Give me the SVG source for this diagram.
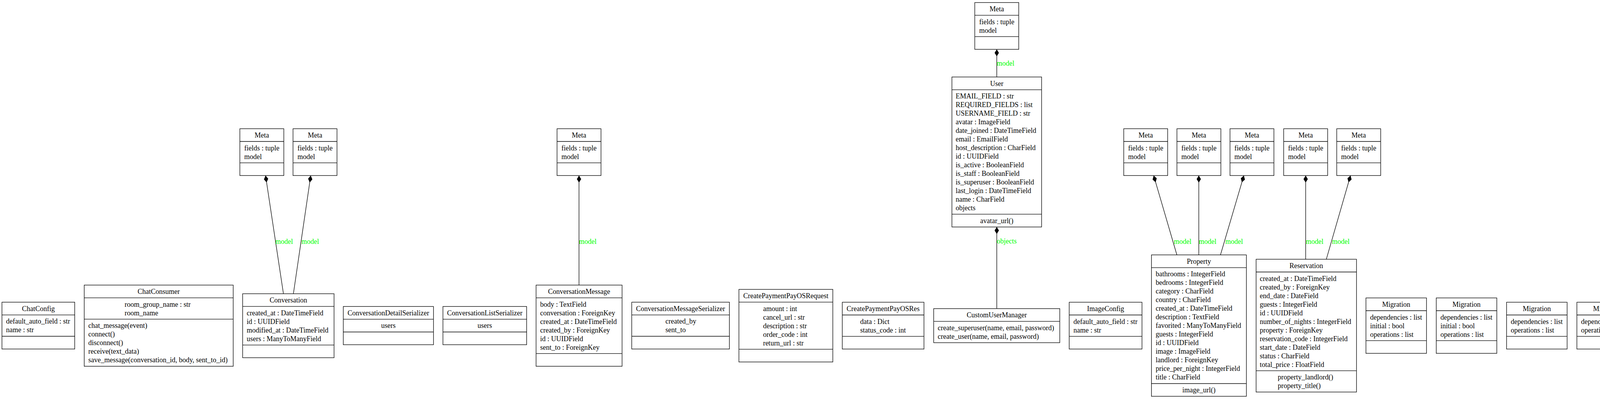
<svg xmlns="http://www.w3.org/2000/svg" width="7869" height="1021" viewBox="0 0 7869 1021">
<style>
.b{fill:#fff;stroke:#000;stroke-width:1.33}
.s{fill:none;stroke:#000;stroke-width:1.33}
text{font-family:"Liberation Serif","Times New Roman",serif;font-size:18px;fill:#000}
.c{text-anchor:middle}
.e{fill:none;stroke:#000;stroke-width:1.33}
text.l{fill:#00ff00}
</style>
<defs>
<marker id="dia" markerUnits="userSpaceOnUse" markerWidth="20" markerHeight="12" refX="0" refY="6" orient="auto" viewBox="0 0 20 12"><path d="M0,6 L9,0.5 L18,6 L9,11.5 Z" fill="#000"/></marker>
</defs>
<rect width="7869" height="1021" fill="#fff"/>
<g id="connectors">
<path class="e" marker-start="url(#dia)" d="M679.8,449.2 L725.6,751.6"/>
<text class="l" x="705" y="623.5">model</text>
<path class="e" marker-start="url(#dia)" d="M795.5,449.2 L751.1,751.6"/>
<text class="l" x="771.7" y="623.5">model</text>
<path class="e" marker-start="url(#dia)" d="M1482.3,449.2 L1482.3,729.5"/>
<text class="l" x="1482.3" y="623.5">model</text>
<path class="e" marker-start="url(#dia)" d="M2551.7,126.3 L2551.7,197"/>
<text class="l" x="2551.7" y="167.5">model</text>
<path class="e" marker-start="url(#dia)" d="M2551.7,580.8 L2551.7,789.7"/>
<text class="l" x="2551.7" y="622.5">objects</text>
<path class="e" marker-start="url(#dia)" d="M2953.4,449.2 L3012.8,652.3"/>
<text class="l" x="3005" y="623.5">model</text>
<path class="e" marker-start="url(#dia)" d="M3068.9,449.2 L3068.9,652.3"/>
<text class="l" x="3069" y="623.5">model</text>
<path class="e" marker-start="url(#dia)" d="M3184.3,449.2 L3124.4,652.3"/>
<text class="l" x="3137" y="623.5">model</text>
<path class="e" marker-start="url(#dia)" d="M3342.5,449.2 L3342.5,663.4"/>
<text class="l" x="3343" y="623.5">model</text>
<path class="e" marker-start="url(#dia)" d="M3457.3,449.2 L3395.4,663.4"/>
<text class="l" x="3410" y="623.5">model</text>
<path class="e" marker-start="url(#dia)" d="M5600.8,437.6 L5600.8,800.8"/>
<text class="l" x="5600.8" y="623">property</text>
</g>

<g id="ChatConfig">
<rect class="b" x="5" y="773.3" width="186.3" height="119.8"/>
<path class="s" d="M5,805.9H191.3M5,860.5H191.3"/>
<text class="c" x="98.15" y="795.8">ChatConfig</text>
<text x="15.5" y="828.4">default_auto_field : str</text>
<text x="15.5" y="850.4">name : str</text>
</g>

<g id="ChatConsumer">
<rect class="b" x="215.6" y="729.5" width="381.4" height="207.8"/>
<path class="s" d="M215.6,762.1H597M215.6,816.7H597"/>
<text class="c" x="406.3" y="752">ChatConsumer</text>
<text x="319" y="784.6">room_group_name : str</text>
<text x="319" y="806.6">room_name</text>
<text x="226" y="839.2">chat_message(event)</text>
<text x="226" y="861.2">connect()</text>
<text x="226" y="883.2">disconnect()</text>
<text x="226" y="905.2">receive(text_data)</text>
<text x="226" y="927.2">save_message(conversation_id, body, sent_to_id)</text>
</g>

<g id="Conversation">
<rect class="b" x="621.2" y="751.6" width="234" height="163.8"/>
<path class="s" d="M621.2,784.2H855.2M621.2,882.8H855.2"/>
<text class="c" x="738.2" y="774.1">Conversation</text>
<text x="631.4" y="806.7">created_at : DateTimeField</text>
<text x="631.4" y="828.7">id : UUIDField</text>
<text x="631.4" y="850.7">modified_at : DateTimeField</text>
<text x="631.4" y="872.7">users : ManyToManyField</text>
</g>

<g id="Meta_Conversation_1">
<rect class="b" x="614.05" y="329.4" width="112.5" height="119.8"/>
<path class="s" d="M614.05,362H726.55M614.05,416.6H726.55"/>
<text class="c" x="670.3" y="351.9">Meta</text>
<text x="625.3" y="384.5">fields : tuple</text>
<text x="625.3" y="406.5">model</text>
</g>

<g id="Meta_Conversation_2">
<rect class="b" x="750.15" y="329.4" width="112.5" height="119.8"/>
<path class="s" d="M750.15,362H862.65M750.15,416.6H862.65"/>
<text class="c" x="806.4" y="351.9">Meta</text>
<text x="761.4" y="384.5">fields : tuple</text>
<text x="761.4" y="406.5">model</text>
</g>

<g id="ConversationDetailSerializer">
<rect class="b" x="878.8" y="784.3" width="230.9" height="97.8"/>
<path class="s" d="M878.8,816.9H1109.7M878.8,849.5H1109.7"/>
<text class="c" x="994.25" y="806.8">ConversationDetailSerializer</text>
<text class="c" x="994.25" y="839.4">users</text>
</g>

<g id="ConversationListSerializer">
<rect class="b" x="1133.9" y="784.3" width="214.3" height="97.8"/>
<path class="s" d="M1133.9,816.9H1348.2M1133.9,849.5H1348.2"/>
<text class="c" x="1241.05" y="806.8">ConversationListSerializer</text>
<text class="c" x="1241.05" y="839.4">users</text>
</g>

<g id="ConversationMessage">
<rect class="b" x="1372.4" y="729.5" width="220.1" height="207.8"/>
<path class="s" d="M1372.4,762.1H1592.5M1372.4,904.7H1592.5"/>
<text class="c" x="1482.45" y="752">ConversationMessage</text>
<text x="1382.7" y="784.6">body : TextField</text>
<text x="1382.7" y="806.6">conversation : ForeignKey</text>
<text x="1382.7" y="828.6">created_at : DateTimeField</text>
<text x="1382.7" y="850.6">created_by : ForeignKey</text>
<text x="1382.7" y="872.6">id : UUIDField</text>
<text x="1382.7" y="894.6">sent_to : ForeignKey</text>
</g>

<g id="Meta_ConversationMessage">
<rect class="b" x="1426.05" y="329.4" width="112.5" height="119.8"/>
<path class="s" d="M1426.05,362H1538.55M1426.05,416.6H1538.55"/>
<text class="c" x="1482.3" y="351.9">Meta</text>
<text x="1437.3" y="384.5">fields : tuple</text>
<text x="1437.3" y="406.5">model</text>
</g>

<g id="ConversationMessageSerializer">
<rect class="b" x="1617.3" y="773.3" width="250" height="119.8"/>
<path class="s" d="M1617.3,805.9H1867.3M1617.3,860.5H1867.3"/>
<text class="c" x="1742.3" y="795.8">ConversationMessageSerializer</text>
<text x="1703.5" y="828.4">created_by</text>
<text x="1703.5" y="850.4">sent_to</text>
</g>

<g id="CreatePaymentPayOSRequest">
<rect class="b" x="1891.6" y="740.5" width="240.4" height="185.8"/>
<path class="s" d="M1891.6,773.1H2132M1891.6,893.7H2132"/>
<text class="c" x="2011.8" y="763">CreatePaymentPayOSRequest</text>
<text x="1953.4" y="795.6">amount : int</text>
<text x="1953.4" y="817.6">cancel_url : str</text>
<text x="1953.4" y="839.6">description : str</text>
<text x="1953.4" y="861.6">order_code : int</text>
<text x="1953.4" y="883.6">return_url : str</text>
</g>

<g id="CreatePaymentPayOSRes">
<rect class="b" x="2156.3" y="773.4" width="209.1" height="119.8"/>
<path class="s" d="M2156.3,806H2365.4M2156.3,860.6H2365.4"/>
<text class="c" x="2260.85" y="795.9">CreatePaymentPayOSRes</text>
<text x="2202" y="828.5">data : Dict</text>
<text x="2202" y="850.5">status_code : int</text>
</g>

<g id="CustomUserManager">
<rect class="b" x="2390.3" y="789.7" width="322.7" height="87.2"/>
<path class="s" d="M2390.3,822.3H2713"/>
<text class="c" x="2551.65" y="812.2">CustomUserManager</text>
<text x="2400.5" y="844.8">create_superuser(name, email, password)</text>
<text x="2400.5" y="866.8">create_user(name, email, password)</text>
</g>

<g id="User">
<rect class="b" x="2436.9" y="197" width="229.6" height="383.8"/>
<path class="s" d="M2436.9,229.6H2666.5M2436.9,548.2H2666.5"/>
<text class="c" x="2551.7" y="219.5">User</text>
<text x="2446.4" y="252.1">EMAIL_FIELD : str</text>
<text x="2446.4" y="274.1">REQUIRED_FIELDS : list</text>
<text x="2446.4" y="296.1">USERNAME_FIELD : str</text>
<text x="2446.4" y="318.1">avatar : ImageField</text>
<text x="2446.4" y="340.1">date_joined : DateTimeField</text>
<text x="2446.4" y="362.1">email : EmailField</text>
<text x="2446.4" y="384.1">host_description : CharField</text>
<text x="2446.4" y="406.1">id : UUIDField</text>
<text x="2446.4" y="428.1">is_active : BooleanField</text>
<text x="2446.4" y="450.1">is_staff : BooleanField</text>
<text x="2446.4" y="472.1">is_superuser : BooleanField</text>
<text x="2446.4" y="494.1">last_login : DateTimeField</text>
<text x="2446.4" y="516.1">name : CharField</text>
<text x="2446.4" y="538.1">objects</text>
<text class="c" x="2551.7" y="570.7">avatar_url()</text>
</g>

<g id="Meta_User">
<rect class="b" x="2495.45" y="6.5" width="112.5" height="119.8"/>
<path class="s" d="M2495.45,39.1H2607.95M2495.45,93.7H2607.95"/>
<text class="c" x="2551.7" y="29">Meta</text>
<text x="2506.7" y="61.6">fields : tuple</text>
<text x="2506.7" y="83.6">model</text>
</g>

<g id="ImageConfig">
<rect class="b" x="2737.2" y="773.4" width="186.3" height="119.8"/>
<path class="s" d="M2737.2,806H2923.5M2737.2,860.6H2923.5"/>
<text class="c" x="2830.35" y="795.9">ImageConfig</text>
<text x="2748" y="828.5">default_auto_field : str</text>
<text x="2748" y="850.5">name : str</text>
</g>

<g id="Meta_Property_1">
<rect class="b" x="2876.75" y="329.4" width="112.5" height="119.8"/>
<path class="s" d="M2876.75,362H2989.25M2876.75,416.6H2989.25"/>
<text class="c" x="2933" y="351.9">Meta</text>
<text x="2888" y="384.5">fields : tuple</text>
<text x="2888" y="406.5">model</text>
</g>

<g id="Meta_Property_2">
<rect class="b" x="3012.95" y="329.4" width="112.5" height="119.8"/>
<path class="s" d="M3012.95,362H3125.45M3012.95,416.6H3125.45"/>
<text class="c" x="3069.2" y="351.9">Meta</text>
<text x="3024.2" y="384.5">fields : tuple</text>
<text x="3024.2" y="406.5">model</text>
</g>

<g id="Meta_Property_3">
<rect class="b" x="3148.75" y="329.4" width="112.5" height="119.8"/>
<path class="s" d="M3148.75,362H3261.25M3148.75,416.6H3261.25"/>
<text class="c" x="3205" y="351.9">Meta</text>
<text x="3160" y="384.5">fields : tuple</text>
<text x="3160" y="406.5">model</text>
</g>

<g id="Meta_Reservation_1">
<rect class="b" x="3286.25" y="329.4" width="112.5" height="119.8"/>
<path class="s" d="M3286.25,362H3398.75M3286.25,416.6H3398.75"/>
<text class="c" x="3342.5" y="351.9">Meta</text>
<text x="3297.5" y="384.5">fields : tuple</text>
<text x="3297.5" y="406.5">model</text>
</g>

<g id="Meta_Reservation_2">
<rect class="b" x="3422.05" y="329.4" width="112.5" height="119.8"/>
<path class="s" d="M3422.05,362H3534.55M3422.05,416.6H3534.55"/>
<text class="c" x="3478.3" y="351.9">Meta</text>
<text x="3433.3" y="384.5">fields : tuple</text>
<text x="3433.3" y="406.5">model</text>
</g>

<g id="Property">
<rect class="b" x="2947.7" y="652.3" width="243" height="361.8"/>
<path class="s" d="M2947.7,684.9H3190.7M2947.7,981.5H3190.7"/>
<text class="c" x="3069.2" y="674.8">Property</text>
<text x="2958.5" y="707.4">bathrooms : IntegerField</text>
<text x="2958.5" y="729.4">bedrooms : IntegerField</text>
<text x="2958.5" y="751.4">category : CharField</text>
<text x="2958.5" y="773.4">country : CharField</text>
<text x="2958.5" y="795.4">created_at : DateTimeField</text>
<text x="2958.5" y="817.4">description : TextField</text>
<text x="2958.5" y="839.4">favorited : ManyToManyField</text>
<text x="2958.5" y="861.4">guests : IntegerField</text>
<text x="2958.5" y="883.4">id : UUIDField</text>
<text x="2958.5" y="905.4">image : ImageField</text>
<text x="2958.5" y="927.4">landlord : ForeignKey</text>
<text x="2958.5" y="949.4">price_per_night : IntegerField</text>
<text x="2958.5" y="971.4">title : CharField</text>
<text class="c" x="3069.2" y="1004">image_url()</text>
</g>

<g id="Reservation">
<rect class="b" x="3215.6" y="663.4" width="257" height="339.8"/>
<path class="s" d="M3215.6,696H3472.6M3215.6,948.6H3472.6"/>
<text class="c" x="3344.1" y="685.9">Reservation</text>
<text x="3225.1" y="718.5">created_at : DateTimeField</text>
<text x="3225.1" y="740.5">created_by : ForeignKey</text>
<text x="3225.1" y="762.5">end_date : DateField</text>
<text x="3225.1" y="784.5">guests : IntegerField</text>
<text x="3225.1" y="806.5">id : UUIDField</text>
<text x="3225.1" y="828.5">number_of_nights : IntegerField</text>
<text x="3225.1" y="850.5">property : ForeignKey</text>
<text x="3225.1" y="872.5">reservation_code : IntegerField</text>
<text x="3225.1" y="894.5">start_date : DateField</text>
<text x="3225.1" y="916.5">status : CharField</text>
<text x="3225.1" y="938.5">total_price : FloatField</text>
<text x="3271" y="971.1">property_landlord()</text>
<text x="3271" y="993.1">property_title()</text>
</g>

<g id="Migration_1">
<rect class="b" x="3496.8" y="762.4" width="155" height="141.8"/>
<path class="s" d="M3496.8,795H3651.8M3496.8,871.6H3651.8"/>
<text class="c" x="3574.3" y="784.9">Migration</text>
<text x="3507.6" y="817.5">dependencies : list</text>
<text x="3507.6" y="839.5">initial : bool</text>
<text x="3507.6" y="861.5">operations : list</text>
</g>

<g id="Migration_2">
<rect class="b" x="3676.8" y="762.4" width="155" height="141.8"/>
<path class="s" d="M3676.8,795H3831.8M3676.8,871.6H3831.8"/>
<text class="c" x="3754.3" y="784.9">Migration</text>
<text x="3687.6" y="817.5">dependencies : list</text>
<text x="3687.6" y="839.5">initial : bool</text>
<text x="3687.6" y="861.5">operations : list</text>
</g>

<g id="Migration_3">
<rect class="b" x="3856.8" y="773.4" width="155" height="119.8"/>
<path class="s" d="M3856.8,806H4011.8M3856.8,860.6H4011.8"/>
<text class="c" x="3934.3" y="795.9">Migration</text>
<text x="3867.6" y="828.5">dependencies : list</text>
<text x="3867.6" y="850.5">operations : list</text>
</g>

<g id="Migration_4">
<rect class="b" x="4036.8" y="773.4" width="155" height="119.8"/>
<path class="s" d="M4036.8,806H4191.8M4036.8,860.6H4191.8"/>
<text class="c" x="4114.3" y="795.9">Migration</text>
<text x="4047.6" y="828.5">dependencies : list</text>
<text x="4047.6" y="850.5">operations : list</text>
</g>

<g id="Migration_5">
<rect class="b" x="4216.8" y="773.4" width="155" height="119.8"/>
<path class="s" d="M4216.8,806H4371.8M4216.8,860.6H4371.8"/>
<text class="c" x="4294.3" y="795.9">Migration</text>
<text x="4227.6" y="828.5">dependencies : list</text>
<text x="4227.6" y="850.5">operations : list</text>
</g>

<g id="Migration_6">
<rect class="b" x="4396.8" y="773.4" width="155" height="119.8"/>
<path class="s" d="M4396.8,806H4551.8M4396.8,860.6H4551.8"/>
<text class="c" x="4474.3" y="795.9">Migration</text>
<text x="4407.6" y="828.5">dependencies : list</text>
<text x="4407.6" y="850.5">operations : list</text>
</g>

<g id="Migration_7">
<rect class="b" x="4576.8" y="773.4" width="155" height="119.8"/>
<path class="s" d="M4576.8,806H4731.8M4576.8,860.6H4731.8"/>
<text class="c" x="4654.3" y="795.9">Migration</text>
<text x="4587.6" y="828.5">dependencies : list</text>
<text x="4587.6" y="850.5">operations : list</text>
</g>

<g id="Migration_8">
<rect class="b" x="4756.8" y="762.4" width="155" height="141.8"/>
<path class="s" d="M4756.8,795H4911.8M4756.8,871.6H4911.8"/>
<text class="c" x="4834.3" y="784.9">Migration</text>
<text x="4767.6" y="817.5">dependencies : list</text>
<text x="4767.6" y="839.5">initial : bool</text>
<text x="4767.6" y="861.5">operations : list</text>
</g>

<g id="Migration_9">
<rect class="b" x="4936.8" y="773.4" width="155" height="119.8"/>
<path class="s" d="M4936.8,806H5091.8M4936.8,860.6H5091.8"/>
<text class="c" x="5014.3" y="795.9">Migration</text>
<text x="4947.6" y="828.5">dependencies : list</text>
<text x="4947.6" y="850.5">operations : list</text>
</g>

<g id="PaymentModel">
<rect class="b" x="5115.4" y="800.8" width="133.3" height="65.2"/>
<path class="s" d="M5115.4,833.4H5248.7"/>
<text class="c" x="5182.05" y="823.3">PaymentModel</text>
</g>

<g id="PropertiesDetailSerializer">
<rect class="b" x="5273.6" y="784.5" width="207.3" height="97.8"/>
<path class="s" d="M5273.6,817.1H5480.9M5273.6,849.7H5480.9"/>
<text class="c" x="5377.25" y="807">PropertiesDetailSerializer</text>
<text class="c" x="5377.25" y="839.6">landlord</text>
</g>

<g id="PropertiesListSerializer">
<rect class="b" x="5505.1" y="800.8" width="191.3" height="65.2"/>
<path class="s" d="M5505.1,833.4H5696.4"/>
<text class="c" x="5600.75" y="823.3">PropertiesListSerializer</text>
</g>

<g id="ReservationsListSerializer">
<rect class="b" x="5495.5" y="339.8" width="211.1" height="97.8"/>
<path class="s" d="M5495.5,372.4H5706.6M5495.5,405H5706.6"/>
<text class="c" x="5601.05" y="362.3">ReservationsListSerializer</text>
<text class="c" x="5601.05" y="394.9">property</text>
</g>

<g id="PropertyAdmin">
<rect class="b" x="5720.7" y="784.5" width="154.9" height="97.8"/>
<path class="s" d="M5720.7,817.1H5875.6M5720.7,849.7H5875.6"/>
<text class="c" x="5798.15" y="807">PropertyAdmin</text>
<text x="5730.9" y="839.6">list_display : tuple</text>
</g>

<g id="PropertyConfig">
<rect class="b" x="5899.9" y="773.4" width="186.1" height="119.8"/>
<path class="s" d="M5899.9,806H6086M5899.9,860.6H6086"/>
<text class="c" x="5992.95" y="795.9">PropertyConfig</text>
<text x="5910" y="828.5">default_auto_field : str</text>
<text x="5910" y="850.5">name : str</text>
</g>

<g id="PropertyForm">
<rect class="b" x="6109.7" y="800.8" width="123.7" height="65.2"/>
<path class="s" d="M6109.7,833.4H6233.4"/>
<text class="c" x="6171.55" y="823.3">PropertyForm</text>
</g>

<g id="PropertyImage">
<rect class="b" x="6257" y="751.3" width="234.7" height="163.8"/>
<path class="s" d="M6257,783.9H6491.7M6257,882.5H6491.7"/>
<text class="c" x="6374.35" y="773.8">PropertyImage</text>
<text x="6267.9" y="806.4">id : UUIDField</text>
<text x="6267.9" y="828.4">image : ImageField</text>
<text x="6267.9" y="850.4">property : ForeignKey</text>
<text x="6267.9" y="872.4">uploaded_at : DateTimeField</text>
<text class="c" x="6374.35" y="905">image_url()</text>
</g>

<g id="ReservationAdmin">
<rect class="b" x="6515.3" y="784.5" width="158.2" height="97.8"/>
<path class="s" d="M6515.3,817.1H6673.5M6515.3,849.7H6673.5"/>
<text class="c" x="6594.4" y="807">ReservationAdmin</text>
<text x="6526" y="839.6">list_display : tuple</text>
</g>

<g id="ReservationDetailSerializer">
<rect class="b" x="6697.7" y="800.8" width="220" height="65.2"/>
<path class="s" d="M6697.7,833.4H6917.7"/>
<text class="c" x="6807.7" y="823.3">ReservationDetailSerializer</text>
</g>

<g id="TokenAuthMiddleware">
<rect class="b" x="6941.7" y="784.5" width="190.7" height="97.8"/>
<path class="s" d="M6941.7,817.1H7132.4M6941.7,849.7H7132.4"/>
<text class="c" x="7037.05" y="807">TokenAuthMiddleware</text>
<text class="c" x="7037.05" y="839.6">inner</text>
</g>

<g id="UserAdmin">
<rect class="b" x="7156.6" y="784.5" width="155.6" height="97.8"/>
<path class="s" d="M7156.6,817.1H7312.2M7156.6,849.7H7312.2"/>
<text class="c" x="7234.4" y="807">UserAdmin</text>
<text x="7166.2" y="839.6">list_display : tuple</text>
</g>

<g id="UserDetailSerializer">
<rect class="b" x="7335.8" y="800.8" width="168.4" height="65.2"/>
<path class="s" d="M7335.8,833.4H7504.2"/>
<text class="c" x="7420" y="823.3">UserDetailSerializer</text>
</g>

<g id="UseraccountConfig">
<rect class="b" x="7527.8" y="773.4" width="186.9" height="119.8"/>
<path class="s" d="M7527.8,806H7714.7M7527.8,860.6H7714.7"/>
<text class="c" x="7621.25" y="795.9">UseraccountConfig</text>
<text x="7538.6" y="828.5">default_auto_field : str</text>
<text x="7538.6" y="850.5">name : str</text>
</g>

<g id="WebhookData">
<rect class="b" x="7738.9" y="773.4" width="124.4" height="119.8"/>
<path class="s" d="M7738.9,806H7863.3M7738.9,860.6H7863.3"/>
<text class="c" x="7801.1" y="795.9">WebhookData</text>
<text x="7751.7" y="828.5">data : Dict</text>
<text x="7751.7" y="850.5">signature : str</text>
</g>
</svg>
